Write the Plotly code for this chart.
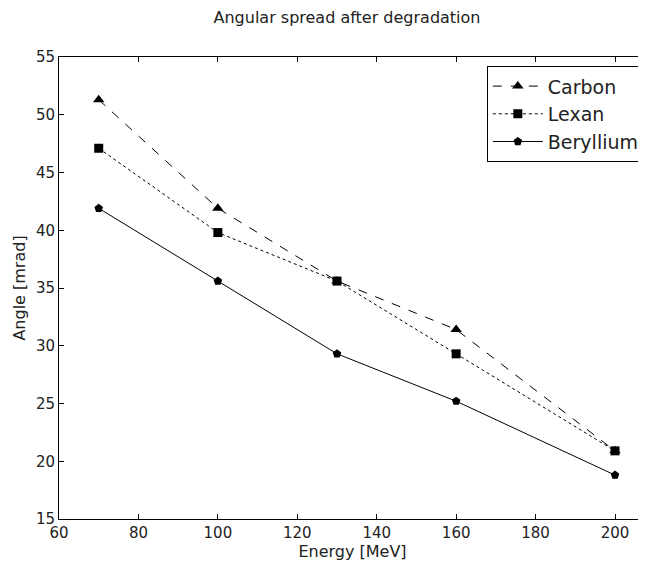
import plotly.graph_objects as go

energy = [70, 100, 130, 160, 200]
carbon = [51.3, 41.9, 35.6, 31.4, 20.9]
lexan = [47.1, 39.8, 35.6, 29.3, 20.9]
beryllium = [41.9, 35.6, 29.3, 25.2, 18.8]

x_ticks = [60, 80, 100, 120, 140, 160, 180, 200]
y_ticks = [15, 20, 25, 30, 35, 40, 45, 50, 55]

fig = go.Figure()
fig.add_trace(go.Scatter(x=energy, y=carbon, name="Carbon", mode="lines+markers",
                         line=dict(color="black", width=1, dash="dash"),
                         marker=dict(symbol="triangle-up", size=10, color="black")))
fig.add_trace(go.Scatter(x=energy, y=lexan, name="Lexan", mode="lines+markers",
                         line=dict(color="black", width=1, dash="dot"),
                         marker=dict(symbol="square", size=9, color="black")))
fig.add_trace(go.Scatter(x=energy, y=beryllium, name="Beryllium", mode="lines+markers",
                         line=dict(color="black", width=1),
                         marker=dict(symbol="pentagon", size=9, color="black")))

axis_common = dict(showline=True, linecolor="black", linewidth=1, mirror="allticks",
                   ticks="inside", ticklen=5, tickcolor="black", showgrid=False,
                   zeroline=False, automargin=False,
                   tickfont=dict(family="DejaVu Sans", size=15, color="#222"))

# page body has an 8px default margin, so the figure is drawn 8px in from the corner
W, H, OFF = 646, 563, 8

fig.update_layout(
    width=W - OFF, height=H - OFF,
    margin=dict(l=59 - OFF, r=0, t=57 - OFF, b=44),
    plot_bgcolor="white", paper_bgcolor="white",
    font=dict(family="DejaVu Sans", color="black"),
    title=dict(text="Angular spread after degradation", x=(347 - OFF) / (W - OFF), xanchor="center",
               y=1 - (17 - OFF) / (H - OFF), yanchor="middle", font=dict(size=16, color="#222")),
    xaxis=dict(range=[60, 207.8], tickvals=x_ticks,
               title=dict(text="Energy [MeV]", font=dict(size=16, color="#222"), standoff=0), **axis_common),
    yaxis=dict(range=[15, 55], tickvals=y_ticks,
               title=dict(text="Angle [mrad]", font=dict(size=16, color="#222"), standoff=6), **axis_common),
    legend=dict(x=0.998, xanchor="right", y=0.98, yanchor="top",
                bordercolor="black", borderwidth=1, bgcolor="white", itemwidth=50,
                font=dict(size=19, color="#222")),
)

fig.write_html("out.html")
